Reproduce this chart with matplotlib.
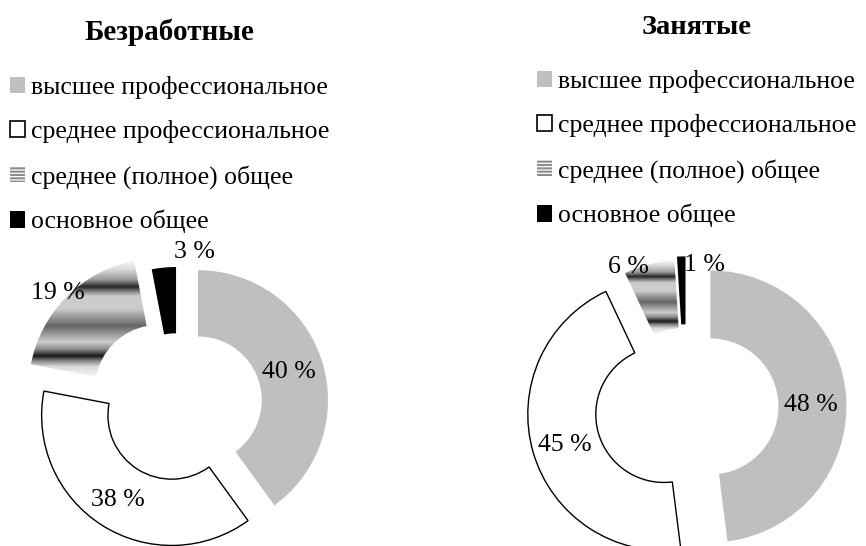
import numpy as np
import matplotlib
matplotlib.use('Agg')
import matplotlib.pyplot as plt
from matplotlib.patches import Patch

plt.rcParams['font.family'] = ['Liberation Serif', 'DejaVu Serif']
plt.rcParams['hatch.linewidth'] = 1.5

# data
categories = ['высшее профессиональное', 'среднее профессиональное',
              'среднее (полное) общее', 'основное общее']
unemployed = [40, 38, 19, 3]
employed = [48, 45, 6, 1]
titles = ['Безработные', 'Занятые']

# style
colors = ['#bfbfbf', 'white', 'none', 'black']
W, H = 866, 546
FS = 18.5

# gradient profile for the "striped" slice (top -> bottom)
grad_t = [0, .07, .16, .22, .26, .30, .41, .50, .56, .63, .70, .76, .82, .86, .91, 1]
grad_v = [.97, .85, .6, .15, .5, .8, .8, .55, .4, .6, .8, .55, .1, .5, .85, .97]


def donut(center_px, radius_px, values, explode, hole, lab_pos, lim=1.45):
    size = 2 * lim * radius_px
    ax = fig.add_axes([(center_px[0] - size / 2) / W,
                       ((H - center_px[1]) - size / 2) / H,
                       size / W, size / H])
    wedges, _ = ax.pie(values, colors=colors, explode=explode, startangle=90,
                       counterclock=False, radius=1,
                       wedgeprops=dict(width=1 - hole, linewidth=0))
    wedges[1].set_edgecolor('black')
    wedges[1].set_linewidth(1.0)

    # gradient fill for third slice
    w = wedges[2]
    ext = w.get_path().get_extents()
    t = np.linspace(0, 1, 200)
    g = np.interp(t, grad_t, grad_v)
    im = ax.imshow(g[:, None], extent=[ext.x0, ext.x1, ext.y0, ext.y1],
                   cmap='gray', vmin=0, vmax=1, aspect='auto',
                   interpolation='bilinear', origin='upper', zorder=1)
    im.set_clip_path(w)

    for v, (r, ang) in zip(values, lab_pos):
        a = np.deg2rad(ang)
        ax.text(r * np.sin(a), r * np.cos(a), f'{v} %', fontsize=FS,
                ha='center', va='center', zorder=5)
    ax.set_xlim(-lim, lim)
    ax.set_ylim(-lim, lim)
    ax.set_aspect('equal')
    ax.axis('off')
    return ax


fig = plt.figure(figsize=(W / 100, H / 100), dpi=100)

donut((177, 407), 130, unemployed, [0.17, 0.077, 0.2, 0.077], 0.49,
      [(0.90, 72.7), (0.85, 212.4), (1.27, 313.8), (1.2, 6.6)])
donut((686, 408), 136, employed, [0.18, 0.17, 0.09, 0.115], 0.5,
      [(0.92, 88.6), (0.93, 253), (1.12, 337.6), (1.06, 7.4)])

fig.text(169 / W, 1 - 32 / H, titles[0], fontsize=21, fontweight='bold',
         ha='center', va='center')
fig.text(697 / W, 1 - 27 / H, titles[1], fontsize=20.5, fontweight='bold',
         ha='center', va='center')

handles = [Patch(facecolor='#bfbfbf', edgecolor='none'),
           Patch(facecolor='white', edgecolor='black', linewidth=1.2),
           Patch(facecolor='white', edgecolor='#8c8c8c', hatch='-----', linewidth=0),
           Patch(facecolor='black', edgecolor='none')]

for x0, ytop in [(10, 76), (537, 70)]:
    fig.legend(handles, categories, loc='upper left',
               bbox_to_anchor=(x0 / W, 1 - ytop / H), frameon=False,
               fontsize=FS, handlelength=0.6, handleheight=0.6,
               handletextpad=0.2, labelspacing=0.83, borderpad=0,
               borderaxespad=0)

fig.savefig('out.png', dpi=100)
